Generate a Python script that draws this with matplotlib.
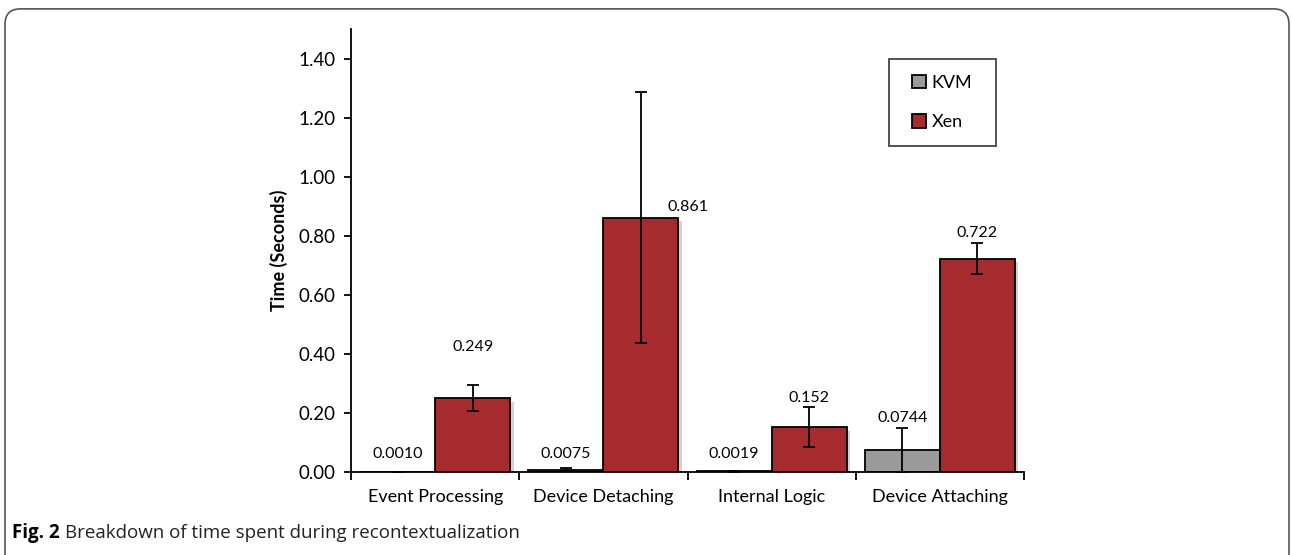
import numpy as np
import matplotlib
matplotlib.use('Agg')
import matplotlib.pyplot as plt
import matplotlib.patheffects as pe
from matplotlib.patches import FancyBboxPatch, Rectangle

categories = ['Event Processing', 'Device Detaching', 'Internal Logic', 'Device Attaching']
kvm = [0.0010, 0.0075, 0.0019, 0.0744]
kvm_err = [0.0005, 0.005, 0.001, 0.074]
xen = [0.249, 0.861, 0.152, 0.722]
xen_err = [0.044, 0.425, 0.067, 0.052]
kvm_labels = ['0.0010', '0.0075', '0.0019', '0.0744']
xen_labels = ['0.249', '0.861', '0.152', '0.722']
yticks = [0.0, 0.2, 0.4, 0.6, 0.8, 1.0, 1.2, 1.4]

plt.rcParams['font.family'] = ['Lato', 'DejaVu Sans']

fig = plt.figure(figsize=(12.91, 5.55), dpi=100)
ax = fig.add_axes([0.2719, 0.1495, 0.5213, 0.7982])

x = np.arange(len(categories))
w = 0.446
shadow = [pe.SimplePatchShadow(offset=(2.5, -2.5), alpha=0.35, shadow_rgbFace='0.5'), pe.Normal()]

b1 = ax.bar(x - w/2, kvm, w, color='#9a9a9a', edgecolor='black', linewidth=1.3, label='KVM', zorder=2)
b2 = ax.bar(x + w/2, xen, w, color='#a52b2f', edgecolor='black', linewidth=1.3, label='Xen', zorder=2)
for b in list(b1) + list(b2):
    b.set_path_effects(shadow)

ax.errorbar(x - w/2, kvm, yerr=kvm_err, fmt='none', ecolor='black', elinewidth=1.3, capsize=4, capthick=1.3, zorder=3)
ax.errorbar(x + w/2, xen, yerr=xen_err, fmt='none', ecolor='black', elinewidth=1.3, capsize=4, capthick=1.3, zorder=3)

# label offsets (hand placed like in the original)
kvm_lab_y = [0.06, 0.06, 0.06, 0.183]
xen_lab_y = [0.423, 0.897, 0.25, 0.809]
xen_lab_dx = [0, 0.28, 0, 0]
for i in range(len(categories)):
    ax.text(x[i] - w/2, kvm_lab_y[i], kvm_labels[i], ha='center', va='center', fontsize=11.5)
    ax.text(x[i] + w/2 + xen_lab_dx[i], xen_lab_y[i], xen_labels[i], ha='center', va='center', fontsize=11.5)

ax.set_xlim(-0.5, len(categories) - 0.5)
ax.set_ylim(0, 1.5)
ax.set_yticks(yticks)
ax.set_yticklabels(['%.2f' % v for v in yticks], fontsize=13.5)
ax.set_xticks(x)
ax.set_xticklabels(categories, fontsize=13)
ax.tick_params(axis='x', length=0, pad=12)
ax.set_xticks(np.arange(-0.5, len(categories)), minor=True)
ax.tick_params(axis='x', which='minor', length=6, width=1.3)
ax.tick_params(axis='y', length=5, width=1.3, pad=6)
ax.spines['top'].set_visible(False)
ax.spines['right'].set_visible(False)
ax.spines['left'].set_linewidth(1.3)
ax.spines['bottom'].set_linewidth(1.3)
ax.set_ylabel('Time (Seconds)', fontsize=13, fontweight='bold', labelpad=8)

# legend box drawn separately, entries centred inside it
box = Rectangle((0.799, 0.736), 0.159, 0.196, transform=ax.transAxes, facecolor='white',
                edgecolor='#444444', linewidth=1.3, zorder=4)
ax.add_patch(box)
leg = ax.legend(loc='center', bbox_to_anchor=(0.8785, 0.834), fontsize=13, frameon=False,
                handlelength=0.75, handleheight=0.75, handletextpad=0.3, labelspacing=1.3, borderpad=0)
leg.set_zorder(5)
for h in leg.legend_handles:
    h.set_path_effects([])

frame = FancyBboxPatch((5/1291, -0.05), 1284/1291, 1.034, boxstyle='round,pad=0,rounding_size=0.012',
                       transform=fig.transFigure, facecolor='none', edgecolor='#555555', linewidth=1.2,
                       mutation_aspect=1291/555)
fig.patches.append(frame)

cap_font = ['Open Sans', 'DejaVu Sans']
t1 = fig.text(12/1291, 1 - 533/555, 'Fig. 2', fontsize=13.5, fontweight='bold', va='center', family=cap_font)
fig.canvas.draw()
bb = t1.get_window_extent()
fig.text((bb.x1 + 5)/1291, 1 - 533/555, 'Breakdown of time spent during recontextualization', fontsize=13.5,
         va='center', color='#222222', family=cap_font)

fig.savefig('out.png', dpi=100)
